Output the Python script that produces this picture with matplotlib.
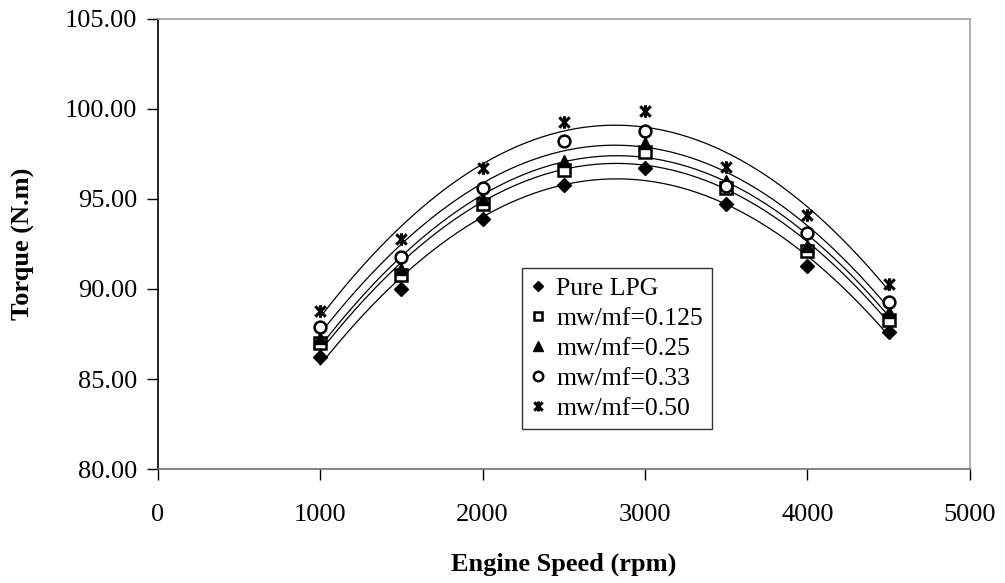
import numpy as np
import matplotlib
matplotlib.use("Agg")
import matplotlib.pyplot as plt
from matplotlib.path import Path

speed = [1000, 1500, 2000, 2500, 3000, 3500, 4000, 4500]

pure_lpg = [86.2, 90.0, 93.9, 95.8, 96.7, 94.7, 91.3, 87.6]
mw_0125 = [87.0, 90.8, 94.7, 96.6, 97.6, 95.6, 92.1, 88.3]
mw_025 = [87.3, 91.1, 95.0, 97.1, 98.1, 96.0, 92.4, 88.7]
mw_033 = [87.9, 91.8, 95.6, 98.2, 98.8, 95.7, 93.1, 89.3]
mw_050 = [88.8, 92.8, 96.7, 99.3, 99.9, 96.8, 94.1, 90.3]

labels = ["Pure LPG", "mw/mf=0.125", "mw/mf=0.25", "mw/mf=0.33", "mw/mf=0.50"]

# excel-style star marker: an X with a vertical bar
star = Path([(-1, -1), (1, 1), (-1, 1), (1, -1), (0, -1.2), (0, 1.2)],
            [Path.MOVETO, Path.LINETO, Path.MOVETO, Path.LINETO, Path.MOVETO, Path.LINETO])

styles = [
    dict(marker="D", ms=7, mfc="black", mec="black", mew=1),
    dict(marker="s", ms=8, mfc="white", mec="black", mew=1.8),
    dict(marker="^", ms=8.5, mfc="black", mec="black", mew=1),
    dict(marker="o", ms=8.5, mfc="white", mec="black", mew=1.8),
    dict(marker=star, ms=9, mfc="none", mec="black", mew=2.2),
]

plt.rcParams["font.family"] = ["Liberation Serif", "DejaVu Serif"]

fig = plt.figure(figsize=(10.05, 5.83), dpi=100)
ax = fig.add_axes([0.157, 0.1955, 0.808, 0.772])

x_fit = np.linspace(speed[0], speed[-1], 200)
series = [pure_lpg, mw_0125, mw_025, mw_033, mw_050]

for vals, lab, st in zip(series, labels, styles):
    coef = np.polyfit(speed, vals, 2)
    ax.plot(x_fit, np.polyval(coef, x_fit), color="black", lw=0.9, zorder=2)
    ax.plot(speed, vals, ls="none", label=lab, zorder=3, **st)

ax.set_xlim(0, 5000)
ax.set_ylim(80, 105)
ax.set_xticks(range(0, 5001, 1000))
ax.set_yticks(np.arange(80, 105.1, 5))
ax.set_yticklabels([f"{v:.2f}" for v in np.arange(80, 105.1, 5)])
ax.tick_params(labelsize=19, direction="out", length=8, width=1, color="black")
ax.tick_params(axis="x", pad=17)
ax.tick_params(axis="y", pad=7)

ax.spines["left"].set_color("black")
ax.spines["bottom"].set_color("#707070")
ax.spines["top"].set_color("#a0a0a0")
ax.spines["right"].set_color("#a0a0a0")
for s in ax.spines.values():
    s.set_linewidth(1.2)

ax.set_xlabel("Engine Speed (rpm)", fontsize=19, fontweight="bold", labelpad=19)
ax.set_ylabel("Torque (N.m)", fontsize=19, fontweight="bold", labelpad=21)

leg = ax.legend(loc="upper left", bbox_to_anchor=(0.448, 0.447), borderaxespad=0,
                fontsize=18.5, frameon=True, fancybox=False, handlelength=0.6,
                handletextpad=0.4, labelspacing=0.27, borderpad=0.35, markerscale=0.8)
leg.get_frame().set_edgecolor("black")
leg.get_frame().set_linewidth(1)

fig.savefig("out.png", dpi=100)
